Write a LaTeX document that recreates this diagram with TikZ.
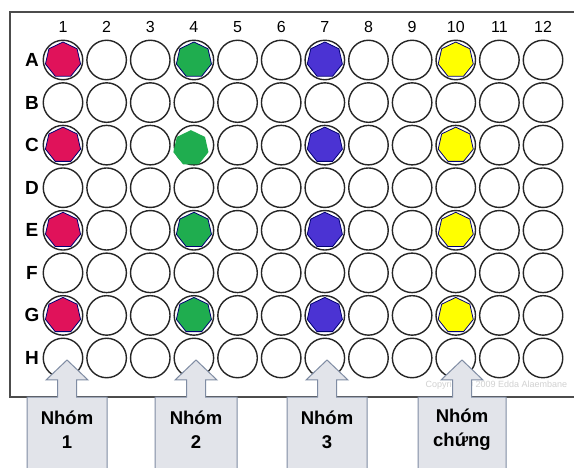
\documentclass[tikz,border=0pt]{standalone}
\usepackage{fontspec}
\setmainfont{Liberation Sans}
\usetikzlibrary{shapes.geometric}
\definecolor{dosered}{HTML}{E0125A}
\definecolor{dosegreen}{HTML}{1FAD4F}
\definecolor{doseblue}{HTML}{4B33D3}
\definecolor{doseyellow}{HTML}{FFFF00}
\definecolor{calloutfill}{HTML}{E2E4EA}
\definecolor{calloutline}{HTML}{7F8CA3}

\begin{document}
\begin{tikzpicture}[x=1pt,y=-1pt,
  well/.style={draw=black!85,circle,line width=1.4pt,minimum size=39.5pt,inner sep=0pt},
  dose/.style={regular polygon,regular polygon sides=7,minimum size=36pt,inner sep=0pt,draw=blue!45!black,line width=0.8pt},
  collbl/.style={font=\fontsize{16}{16}\selectfont},
  rowlbl/.style={font=\fontsize{19}{19}\selectfont\bfseries},
  grp/.style={align=center,font=\fontsize{18.5}{24}\selectfont\bfseries},
  callout/.style={fill=calloutfill,draw=calloutline,line width=1pt}
]
\useasboundingbox (0,0) rectangle (574,468);
\clip (0,0) rectangle (574,468);
\draw[black!70,line width=1.2pt,fill=white] (10,12) rectangle (600,397);

% plate
\foreach \r [count=\i] in {A,B,C,D,E,F,G,H} {
  \node[rowlbl] (row\r) at (32,{60+(\i-1)*42.57}) {\r};
  \foreach \c in {1,...,12}
    \node[well] (\r\c) at ({63+(\c-1)*43.64},{60+(\i-1)*42.57}) {};
}
\foreach \c in {1,...,12}
  \node[collbl] (col\c) at ({63+(\c-1)*43.64},27) {\c};

% treated wells
\foreach \r in {A,C,E,G} {
  \node[dose,fill=dosered] (red\r) at (\r1) {};
  \node[dose,fill=doseblue] (blue\r) at (\r7) {};
  \node[dose,fill=doseyellow] (yel\r) at (\r10) {};
}
\foreach \r in {A,E,G}
  \node[dose,fill=dosegreen] (grn\r) at (G4 |- \r4) {};
\node[dose,fill=dosegreen,draw=none] (grnC) at ([xshift=-3pt,yshift=-3pt]C4) {};

\node[text=black!18,font=\fontsize{9}{9}\selectfont,anchor=west] (wm) at (422,385) {Copyright © 2009 Edda Alaembane};

% groups
\foreach \n/\x/\w/\t in {1/67/40/{Nhóm\\1},2/196/41/{Nhóm\\2},3/327/40/{Nhóm\\3},4/462/44/{Nhóm\\chứng}} {
  \filldraw[callout] (\x-\w,480) -- (\x-\w,397) -- (\x-9.5,397) -- (\x-9.5,380) -- (\x-21,380)
    -- (\x,360) -- (\x+21,380) -- (\x+9.5,380) -- (\x+9.5,397) -- (\x+\w,397) -- (\x+\w,480);
  \node[grp] (grp\n) at (\x,430) {\t};
}
\end{tikzpicture}
\end{document}
